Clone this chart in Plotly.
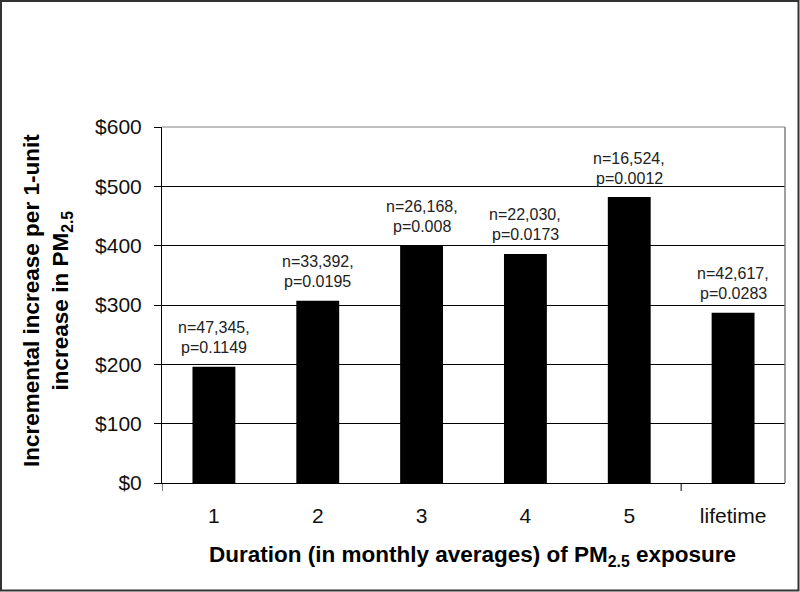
import plotly.graph_objects as go

categories = ["1", "2", "3", "4", "5", "lifetime"]
values = [196, 307, 401, 386, 482, 287]
n_labels = ["n=47,345,", "n=33,392,", "n=26,168,", "n=22,030,", "n=16,524,", "n=42,617,"]
p_labels = ["p=0.1149", "p=0.0195", "p=0.008", "p=0.0173", "p=0.0012", "p=0.0283"]

W, H = 800, 592
L, R, T, B = 162, 15, 127, 109
pw, ph = W - L - R, H - T - B

def px_x(px):
    return (px - L) / pw

def px_y(py):
    return (H - B - py) / ph

FONT = "Liberation Sans, Arial, sans-serif"

fig = go.Figure(go.Bar(x=categories, y=values, marker=dict(color="black", line=dict(width=0)),
                       hoverinfo="skip"))

annotations = []
for i, (v, nl, pl) in enumerate(zip(values, n_labels, p_labels)):
    annotations.append(dict(x=i, y=v, xref="x", yref="y", text=nl, showarrow=False,
                            yanchor="middle", yshift=39, font=dict(size=16, color="#222", family=FONT)))
    annotations.append(dict(x=i, y=v, xref="x", yref="y", text=pl, showarrow=False,
                            yanchor="middle", yshift=19, font=dict(size=16, color="#222", family=FONT)))

annotations.append(dict(x=px_x(47), y=px_y(301), xref="paper", yref="paper",
                        text="<b>Incremental increase per 1-unit<br>increase in PM<sub>2.5</sub></b>",
                        textangle=-90, showarrow=False, xanchor="center", yanchor="middle",
                        font=dict(size=22.5, color="black", family=FONT)))
annotations.append(dict(x=px_x(472), y=px_y(556), xref="paper", yref="paper",
                        text="<b>Duration (in monthly averages) of PM<sub>2.5</sub> exposure</b>",
                        showarrow=False, xanchor="center", yanchor="middle",
                        font=dict(size=22.5, color="black", family=FONT)))

shapes = [
    dict(type="line", xref="paper", yref="paper", x0=0, x1=1, y0=1, y1=1,
         line=dict(color="#808080", width=1), layer="above"),
    dict(type="line", xref="paper", yref="paper", x0=1, x1=1, y0=0, y1=1,
         line=dict(color="#808080", width=1.5), layer="above"),
    dict(type="line", xref="x", yref="paper", x0=-0.5, x1=-0.5, y0=0, y1=px_y(491),
         line=dict(color="black", width=1)),
    dict(type="line", xref="x", yref="paper", x0=4.5, x1=4.5, y0=0, y1=px_y(491),
         line=dict(color="black", width=1)),
    dict(type="rect", xref="paper", yref="paper",
         x0=px_x(1), x1=px_x(798.5), y0=px_y(590.5), y1=px_y(1),
         line=dict(color="#333333", width=2), fillcolor="rgba(0,0,0,0)"),
]

fig.update_layout(
    width=W, height=H,
    margin=dict(l=L, r=R, t=T, b=B),
    paper_bgcolor="white", plot_bgcolor="white",
    bargap=0.587,
    showlegend=False,
    font=dict(family=FONT, color="black"),
    annotations=annotations,
    shapes=shapes,
    xaxis=dict(type="category", showgrid=False, showline=True, linecolor="black", linewidth=1,
               ticks="", tickfont=dict(size=21, color="#111", family=FONT),
               ticklabelstandoff=14,
               range=[-0.5, 5.5], fixedrange=True),
    yaxis=dict(range=[0, 600], dtick=100, tickprefix="$", showgrid=True, gridcolor="black",
               gridwidth=1, showline=True, linecolor="black", linewidth=1,
               ticks="outside", ticklen=7, tickcolor="black", ticklabelstandoff=8,
               tickfont=dict(size=21, color="#111", family=FONT), zeroline=False,
               fixedrange=True),
)

fig.write_html("out.html", config={"displayModeBar": False},
               post_script="document.body.style.margin='0px';document.body.style.overflow='hidden';")
